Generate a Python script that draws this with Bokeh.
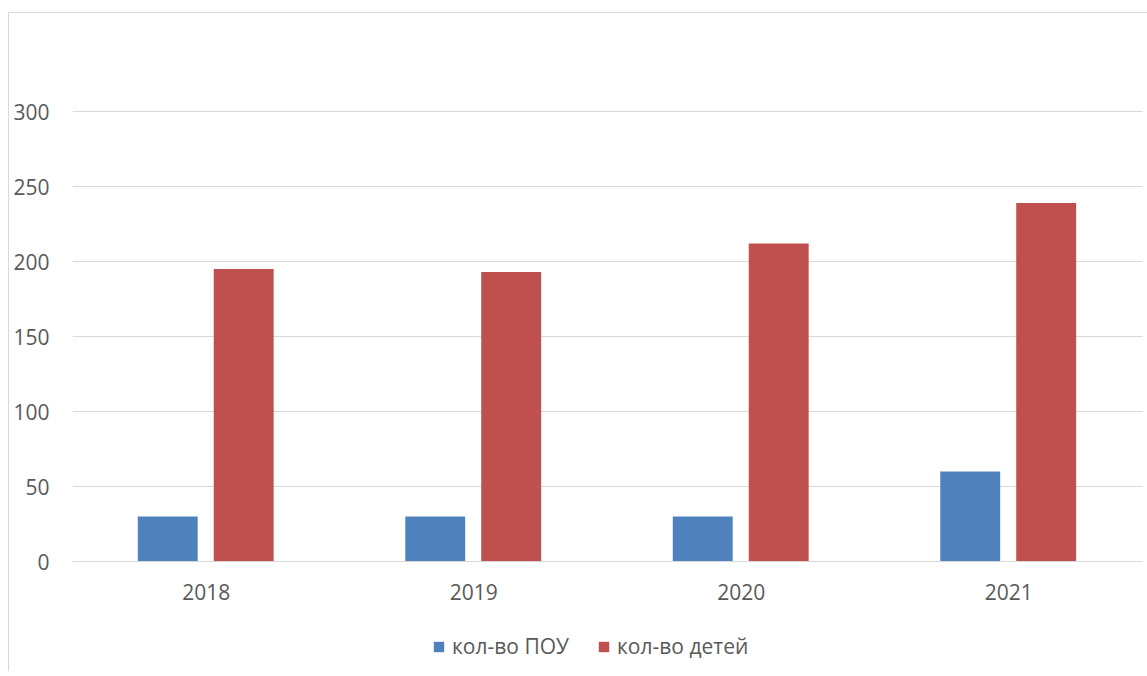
from bokeh.plotting import figure
from bokeh.models import (ColumnDataSource, FactorRange, Range1d, FixedTicker,
                          Legend, LegendItem)
from bokeh.layouts import column
from bokeh.transform import dodge
from bokeh.embed import file_html
from bokeh.resources import INLINE

years = ["2018", "2019", "2020", "2021"]
pou = [30, 30, 30, 60]
children = [195, 193, 212, 239]
y_ticks = [0, 50, 100, 150, 200, 250, 300]
series_names = ["кол-во ПОУ", "кол-во детей"]
colors = ["#4F81BD", "#C0504D"]

FONT = "Open Sans"
FS = "21px"
TXT = "#595959"
GRID = "#d9d9d9"

src = ColumnDataSource(dict(year=years, pou=pou, children=children))

p = figure(width=1139, height=608, output_backend="svg", toolbar_location=None,
           x_range=FactorRange(*years, range_padding=0),
           y_range=Range1d(0, 350),
           min_border_left=63, min_border_right=6, min_border_top=23, min_border_bottom=60)
p.outline_line_color = None
p.background_fill_color = "white"
p.border_fill_color = "white"

r1 = p.vbar(x=dodge("year", -0.144, range=p.x_range), top="pou", width=0.224,
            source=src, fill_color=colors[0], line_color=None)
r2 = p.vbar(x=dodge("year", 0.14, range=p.x_range), top="children", width=0.224,
            source=src, fill_color=colors[1], line_color=None)

p.xgrid.grid_line_color = None
p.ygrid.grid_line_color = GRID
p.ygrid.grid_line_width = 1
p.yaxis.ticker = FixedTicker(ticks=y_ticks)

for ax in (p.xaxis[0], p.yaxis[0]):
    ax.major_tick_line_color = None
    ax.minor_tick_line_color = None
    ax.major_label_text_font = FONT
    ax.major_label_text_font_size = FS
    ax.major_label_text_color = TXT
p.yaxis.axis_line_color = None
p.yaxis.major_label_standoff = 17
p.xaxis.axis_line_color = GRID
p.xaxis.major_label_standoff = 16

# legend strip (separate figure so the legend is not clipped by the main frame);
# its renderers are hidden, only their legend entries are shown
lg = figure(width=1139, height=50, output_backend="svg", toolbar_location=None,
            x_range=p.x_range, y_range=Range1d(0, 1),
            x_axis_type=None, y_axis_type=None,
            min_border_left=0, min_border_right=0, min_border_top=0, min_border_bottom=0)
lg.outline_line_color = None
lg.xgrid.grid_line_color = None
lg.ygrid.grid_line_color = None
lg.border_fill_color = "white"
lg.background_fill_color = "white"
e1 = lg.vbar(x=dodge("year", -0.144, range=p.x_range), top="pou", width=0.224,
             source=src, fill_color=colors[0], line_color=None)
e2 = lg.vbar(x=dodge("year", 0.14, range=p.x_range), top="children", width=0.224,
             source=src, fill_color=colors[1], line_color=None)
e1.visible = False
e2.visible = False

legend = Legend(items=[LegendItem(label=series_names[0], renderers=[e1]),
                       LegendItem(label=series_names[1], renderers=[e2])],
                orientation="horizontal", location="center_left",
                label_text_font=FONT, label_text_font_size=FS, label_text_color=TXT,
                glyph_width=13, glyph_height=13, label_standoff=7, spacing=28,
                border_line_color=None, background_fill_alpha=0,
                inactive_fill_alpha=0,
                padding=0, margin=360)
lg.add_layout(legend)

layout = column(p, lg, spacing=0)
layout.margin = (12, 0, 0, 8)
layout.styles = {"border-left": "1px solid #d9d9d9", "border-top": "1px solid #d9d9d9"}

open("out.html", "w").write(file_html(layout, INLINE))
